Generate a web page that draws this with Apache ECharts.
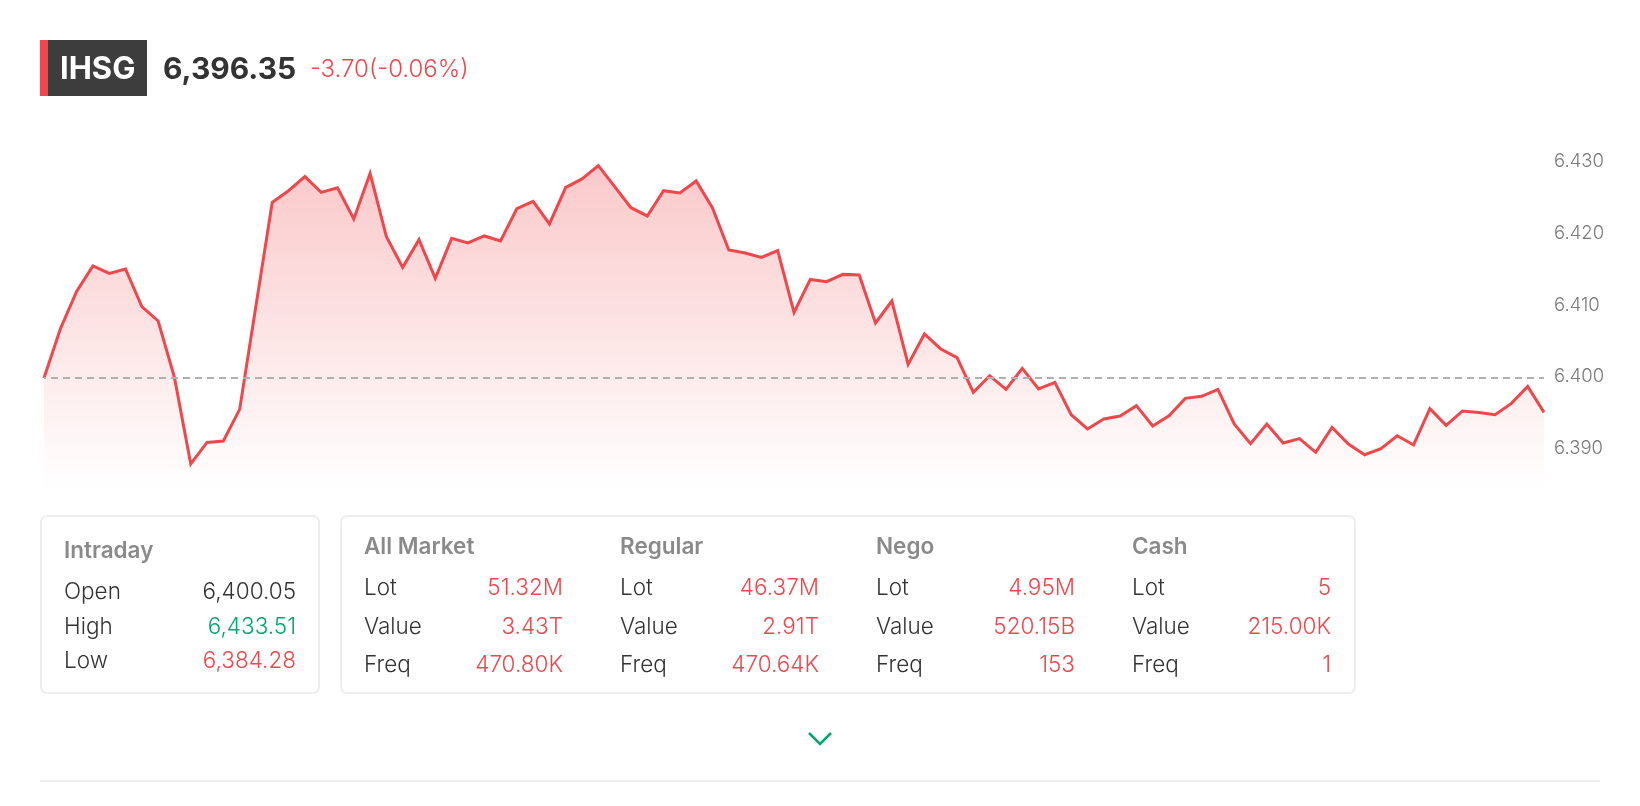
<!DOCTYPE html>
<html>
<head>
<meta charset="utf-8">
<title>IHSG</title>
<style>
html, body { margin: 0; padding: 0; background: #fff; }
#Line1 { width: 1640px; height: 806px; }
</style>
<script src="https://cdn.jsdelivr.net/npm/echarts@6/dist/echarts.min.js"></script>
</head>
<body>
<div id="Line1"></div>
<script>
var prices = [
    6400.05, 6406.87, 6412.12, 6415.66, 6414.63, 6415.24, 6409.99, 6407.99, 6400.13, 6388.05,
    6391.06, 6391.25, 6395.66, 6410.13, 6424.53, 6426.16, 6428.12, 6425.93, 6426.58, 6422.22,
    6428.58, 6419.75, 6415.47, 6419.33, 6413.93, 6419.51, 6418.87, 6419.85, 6419.15, 6423.65,
    6424.67, 6421.52, 6426.62, 6427.80, 6429.65, 6426.72, 6423.79, 6422.64, 6426.16, 6425.84,
    6427.52, 6423.75, 6417.89, 6417.48, 6416.86, 6417.80, 6409.19, 6413.79, 6413.47, 6414.49,
    6414.41, 6407.71, 6410.78, 6401.94, 6406.18, 6404.09, 6402.87, 6398.03, 6400.36, 6398.45,
    6401.38, 6398.51, 6399.43, 6394.92, 6392.93, 6394.32, 6394.74, 6396.18, 6393.35, 6394.78,
    6397.20, 6397.48, 6398.45, 6393.63, 6390.88, 6393.63, 6390.98, 6391.58, 6389.67, 6393.15,
    6390.84, 6389.34, 6390.18, 6391.99, 6390.70, 6395.76, 6393.43, 6395.44, 6395.24, 6394.92,
    6396.50, 6398.87, 6395.24
];
var times = prices.map(function (p, i) { return i; });
var yTicks = [6390, 6400, 6410, 6420, 6430];
var openPrice = 6400.05;
var highPrice = 6433.51;
var lowPrice = 6384.28;

var indexName = 'IHSG';
var lastPrice = '6,396.35';
var priceChange = '-3.70(-0.06%)';

var intradayLabels = ['Open', 'High', 'Low'];
var intradayValues = ['6,400.05', '6,433.51', '6,384.28'];

var marketRows = ['Lot', 'Value', 'Freq'];
var marketNames = ['All Market', 'Regular', 'Nego', 'Cash'];
var allMarket = ['51.32M', '3.43T', '470.80K'];
var regular = ['46.37M', '2.91T', '470.64K'];
var nego = ['4.95M', '520.15B', '153'];
var cash = ['5', '215.00K', '1'];
var marketValues = [allMarket, regular, nego, cash];

var RED = '#ef474b';
var GREEN = '#00a86b';
var DARK = '#333333';
var GREY = '#8a8a8a';
var FONT = 'Inter';

function label(x, y, str, color, size, weight, align) {
    return {
        type: 'text',
        x: x,
        y: y,
        style: {
            text: str,
            fill: color,
            font: (weight || 'normal') + ' ' + size + 'px ' + FONT,
            textAlign: align || 'left',
            textVerticalAlign: 'middle'
        }
    };
}

function card(x, y, w, h) {
    return {
        type: 'rect',
        shape: { x: x, y: y, width: w, height: h, r: 6 },
        style: { fill: '#fff', stroke: '#eeeeee', lineWidth: 2 }
    };
}

function buildGraphic() {
    var g = [];
    // header
    g.push({ type: 'rect', shape: { x: 40, y: 40, width: 107, height: 56 }, style: { fill: '#3d3d3d' } });
    g.push({ type: 'rect', shape: { x: 40, y: 40, width: 8, height: 56 }, style: { fill: RED } });
    g.push(label(60, 70, indexName, '#fff', 31, '700'));
    g.push(label(163, 70, lastPrice, DARK, 30, '700'));
    g.push(label(310, 70, priceChange, RED, 24, '300'));

    // intraday card
    g.push(card(41, 516, 278, 177));
    g.push(label(64, 551, 'Intraday', GREY, 22.5, '600'));
    var intradayY = [592, 627, 661];
    var intradayColors = [DARK, GREEN, RED];
    intradayLabels.forEach(function (name, i) {
        g.push(label(64, intradayY[i], name, DARK, 22.5, '300'));
        g.push(label(296, intradayY[i], intradayValues[i], intradayColors[i], 22.5, '300', 'right'));
    });

    // market card
    g.push(card(341, 516, 1014, 177));
    var rowY = [588, 627, 665];
    marketNames.forEach(function (name, c) {
        var left = 364 + c * 256;
        var right = 563 + c * 256;
        g.push(label(left, 547, name, GREY, 22.5, '600'));
        marketRows.forEach(function (row, i) {
            g.push(label(left, rowY[i], row, DARK, 22.5, '300'));
            g.push(label(right, rowY[i], marketValues[c][i], RED, 22.5, '300', 'right'));
        });
    });

    // chevron + divider
    g.push({
        type: 'polyline',
        shape: { points: [[809, 733], [820, 744], [831, 733]] },
        style: { stroke: GREEN, lineWidth: 2.5, fill: null }
    });
    g.push({
        type: 'rect',
        shape: { x: 40, y: 780, width: 1560, height: 2 },
        style: { fill: '#eeeeee' }
    });
    return g;
}

function showLine1() {
    var myChart_Line1 = echarts.init(document.getElementById('Line1'), null, { renderer: 'canvas' });
    var option_Line1 = {
        animation: false,
        backgroundColor: '#fff',
        textStyle: { fontFamily: FONT },
        grid: { left: 44, right: 96, top: 138, height: 353 },
        xAxis: {
            type: 'category',
            boundaryGap: false,
            data: times,
            show: false
        },
        yAxis: {
            type: 'value',
            position: 'right',
            min: lowPrice,
            max: highPrice,
            axisLine: { show: false },
            axisTick: { show: false },
            splitLine: { show: false },
            axisLabel: {
                customValues: yTicks,
                margin: 10,
                formatter: function (v) { return '{t|' + (v / 1000).toFixed(3) + '}'; },
                rich: {
                    t: {
                        color: '#7a7a7a',
                        fontSize: 18.5,
                        fontWeight: 300,
                        fontFamily: FONT,
                        padding: [0, 0, 3, 0]
                    }
                }
            }
        },
        series: [{
            type: 'line',
            data: prices,
            symbol: 'none',
            lineStyle: { color: RED, width: 3, join: 'miter' },
            areaStyle: {
                origin: lowPrice,
                opacity: 1,
                color: new echarts.graphic.LinearGradient(0, 0, 0, 1, [
                    { offset: 0, color: 'rgba(240,75,79,0.30)' },
                    { offset: 1, color: 'rgba(240,75,79,0)' }
                ])
            },
            markLine: {
                silent: true,
                symbol: 'none',
                label: { show: false },
                lineStyle: { color: '#b0b0b0', type: [7, 5], dashOffset: 5, width: 2 },
                data: [{ yAxis: openPrice }]
            }
        }],
        graphic: buildGraphic()
    };
    myChart_Line1.setOption(option_Line1);
}

showLine1();
</script>
</body>
</html>
